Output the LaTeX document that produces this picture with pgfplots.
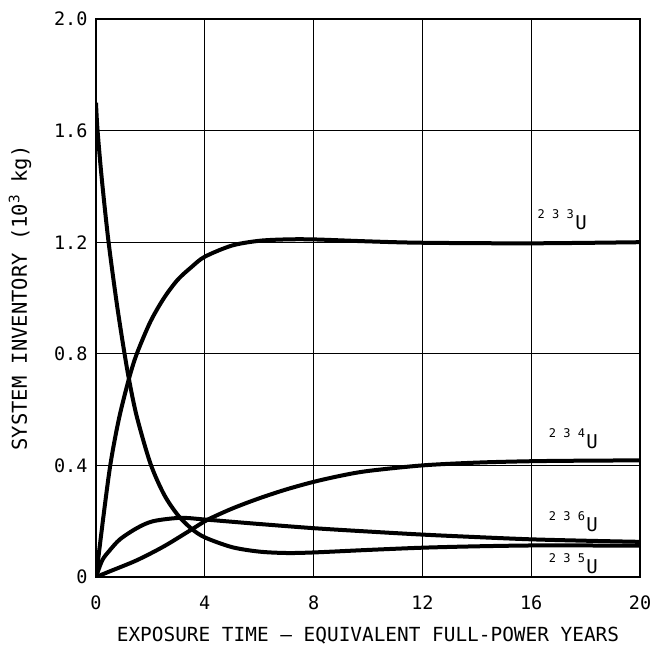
\documentclass[border=0pt]{standalone}
\usepackage{fontspec}
\setmainfont{DejaVu Sans Mono}
\usepackage{pgfplots}
\pgfplotsset{compat=1.18}

% isotope label: small spaced mass number, then U
\newcommand{\iso}[1]{{\fontsize{19}{19}\selectfont\raisebox{11pt}{\fontsize{12}{12}\selectfont #1}\hspace{1.5pt}U}}

\begin{document}
\begin{tikzpicture}
\begin{axis}[name=ax,
  scale only axis, width=544pt, height=558pt,
  xmin=0, xmax=20, ymin=0, ymax=2,
  xtick={0,4,8,12,16,20}, xticklabels={0,4,8,12,16,20},
  ytick={0,0.4,0.8,1.2,1.6,2.0}, yticklabels={0,0.4,0.8,1.2,1.6,2.0},
  grid=major, major grid style={black, line width=1.3pt},
  major tick length=0pt,
  axis line style={line width=2.6pt},
  tick label style={font=\fontsize{18.5}{20}\selectfont},
  xticklabel style={yshift=-15pt},
  yticklabel style={xshift=-5pt},
  x label style={font=\fontsize{19.4}{22}\selectfont, at={(axis description cs:0.5,-0.1057)}, anchor=center},
  y label style={font=\fontsize{20.5}{22}\selectfont, at={(axis description cs:-0.1397,0.5)}, anchor=center},
  xlabel={EXPOSURE TIME — EQUIVALENT FULL-POWER YEARS},
  ylabel={SYSTEM INVENTORY (10\textsuperscript{3} kg)},
  curve/.style={black, line width=4pt, smooth, tension=0.5},
]
% 233U
\addplot[curve] coordinates {(0,0) (0.29,0.23) (0.54,0.41) (0.85,0.57) (1.21,0.71) (1.5,0.80) (2.0,0.915) (2.5,1.0) (3.0,1.065) (3.5,1.11) (4,1.148) (5,1.188) (6,1.205) (7,1.21) (8,1.21) (10,1.203) (12,1.198) (16,1.196) (20,1.2)};
% 235U
\addplot[curve] coordinates {(0,1.70) (0.05,1.61) (0.2,1.44) (0.45,1.21) (0.75,0.99) (1.0,0.83) (1.21,0.71) (1.5,0.575) (2.0,0.407) (2.5,0.296) (3.0,0.223) (3.5,0.174) (4.0,0.142) (5,0.107) (6.0,0.091) (7,0.086) (8,0.088) (10,0.097) (12,0.105) (14,0.11) (16,0.113) (18,0.113) (20,0.112)};
% 234U
\addplot[curve] coordinates {(0,0) (0.5,0.02) (1.5,0.06) (2.5,0.11) (3.51,0.17) (4.1,0.205) (5,0.245) (6,0.282) (7,0.314) (8,0.341) (9,0.363) (10,0.38) (12,0.40) (14,0.41) (16,0.415) (18,0.417) (20,0.418)};
% 236U
\addplot[curve] coordinates {(0,0) (0.23,0.06) (0.5,0.095) (0.88,0.135) (1.5,0.175) (2.1,0.2) (3.1,0.212) (4,0.206) (5,0.198) (6,0.19) (8,0.175) (10,0.163) (12,0.152) (14,0.143) (16,0.135) (18,0.13) (20,0.126)};

\node[anchor=base east, inner sep=0pt] at (axis cs:18.05,1.244) {\iso{2 3 3}};
\node[anchor=base east, inner sep=0pt] at (axis cs:18.46,0.462) {\iso{2 3 4}};
\node[anchor=base east, inner sep=0pt] at (axis cs:18.46,0.162) {\iso{2 3 6}};
\node[anchor=base east, inner sep=0pt] at (axis cs:18.46,0.014) {\iso{2 3 5}};
\end{axis}
\pgfresetboundingbox
\path ([shift={(-96pt,-73pt)}]ax.south west) rectangle ([shift={(15pt,19pt)}]ax.north east);
\end{tikzpicture}
\end{document}
